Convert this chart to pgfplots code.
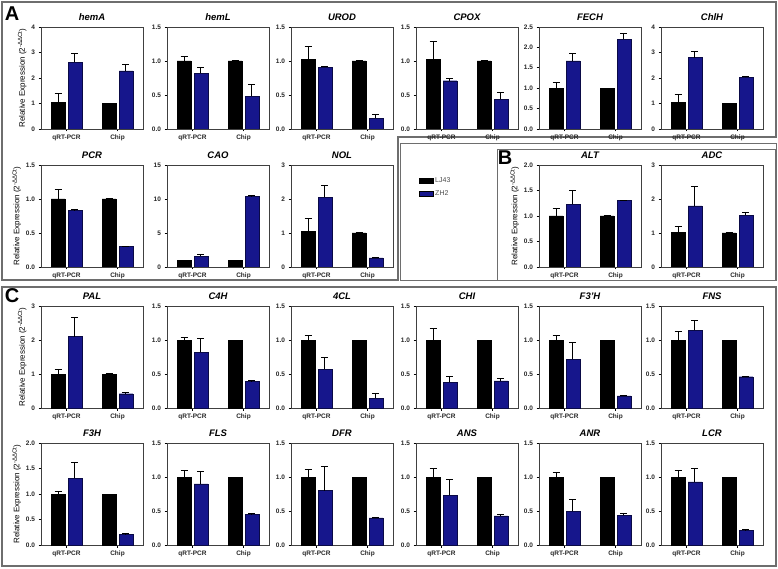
\documentclass[border=0pt]{standalone}
\usepackage{pgfplots}
\pgfplotsset{compat=1.18}
\usepackage{fontspec}
\setmainfont{Liberation Sans}
\definecolor{zhblue}{RGB}{22,22,140}
\definecolor{zhedge}{RGB}{10,10,70}
\definecolor{framec}{RGB}{110,110,110}
\pgfplotsset{
 panel/.style={width=102pt,height=102pt,scale only axis,anchor=north west,
  xmin=-0.5,xmax=1.5,ymin=0,xtick={0,1},xticklabels={qRT-PCR,Chip},
  tick align=outside,xtick pos=bottom,ytick pos=left,major tick length=2.5pt,
  tick style={black,line width=0.7pt},axis line style={black!75,line width=0.8pt},
  /pgf/number format/assume math mode=true,
  tick label style={font=\bfseries\fontsize{6.5}{7}\selectfont,text=black!85},
  title style={font=\bfseries\itshape\fontsize{9.5}{10}\selectfont,yshift=-3pt},
  ylabel style={font=\fontsize{8}{9}\selectfont,yshift=-2pt}},
 dec/.style={yticklabel style={/pgf/number format/.cd,fixed,fixed zerofill,precision=1}},
 lj/.style={ybar,bar width=0.27,bar shift=0pt,fill=black,draw=black,
  error bars/.cd,y dir=plus,y explicit,error bar style={black,line width=1pt},
  error mark options={rotate=90,black,line width=1pt,mark size=3.5pt},/pgfplots/.cd},
 zh/.style={ybar,bar width=0.27,bar shift=0pt,fill=zhblue,draw=zhedge,
  error bars/.cd,y dir=plus,y explicit,error bar style={black,line width=1pt},
  error mark options={rotate=90,black,line width=1pt,mark size=3.5pt},/pgfplots/.cd},
}
\newcommand{\ylab}{Relative Expression (2\textsuperscript{-ΔΔCt})}
\begin{document}
\begin{tikzpicture}
\useasboundingbox (0pt,0pt) rectangle (778pt,568pt);
% frames
\draw[framec,line width=1.3pt] (2pt,566pt) -- (776pt,566pt) -- (776pt,431pt) -- (398pt,431pt) -- (398pt,288pt) -- (2pt,288pt) -- cycle;
\draw[framec,line width=1pt] (400.5pt,424pt) rectangle (776pt,287pt);
\draw[framec,line width=1pt] (497pt,418pt) rectangle (775pt,287pt);
\draw[framec,line width=1.3pt] (2pt,281pt) rectangle (776pt,2pt);
\node[font=\bfseries\fontsize{20}{20}\selectfont] at (12pt,554pt) {A};
\node[font=\bfseries\fontsize{20}{20}\selectfont] at (505pt,410pt) {B};
\node[font=\bfseries\fontsize{20}{20}\selectfont] at (12pt,272pt) {C};

% ---------- Row 1 (A) ----------
\begin{axis}[panel,at={(41pt,541pt)},ymax=4,ytick={0,1,2,3,4},title={hemA},ylabel={\ylab}]
\addplot[lj] coordinates {(-0.165,1.05) +- (0,0.35) (0.835,1.0) +- (0,0)};
\addplot[zh] coordinates {(0.165,2.62) +- (0,0.35) (1.165,2.28) +- (0,0.24)};
\end{axis}
\begin{axis}[panel,dec,at={(167pt,541pt)},ymax=1.5,ytick={0,0.5,1,1.5},title={hemL}]
\addplot[lj] coordinates {(-0.165,1.0) +- (0,0.06) (0.835,1.0) +- (0,0)};
\addplot[zh] coordinates {(0.165,0.82) +- (0,0.09) (1.165,0.48) +- (0,0.17)};
\end{axis}
\begin{axis}[panel,dec,at={(291pt,541pt)},ymax=1.5,ytick={0,0.5,1,1.5},title={UROD}]
\addplot[lj] coordinates {(-0.165,1.02) +- (0,0.2) (0.835,1.0) +- (0,0)};
\addplot[zh] coordinates {(0.165,0.91) +- (0,0.01) (1.165,0.16) +- (0,0.06)};
\end{axis}
\begin{axis}[panel,dec,at={(416pt,541pt)},ymax=1.5,ytick={0,0.5,1,1.5},title={CPOX}]
\addplot[lj] coordinates {(-0.165,1.02) +- (0,0.27) (0.835,1.0) +- (0,0)};
\addplot[zh] coordinates {(0.165,0.71) +- (0,0.03) (1.165,0.44) +- (0,0.09)};
\end{axis}
\begin{axis}[panel,dec,at={(539pt,541pt)},ymax=2.5,ytick={0,0.5,1,1.5,2,2.5},title={FECH}]
\addplot[lj] coordinates {(-0.165,1.0) +- (0,0.15) (0.835,1.0) +- (0,0)};
\addplot[zh] coordinates {(0.165,1.67) +- (0,0.19) (1.165,2.2) +- (0,0.13)};
\end{axis}
\begin{axis}[panel,at={(661pt,541pt)},ymax=4,ytick={0,1,2,3,4},title={ChlH}]
\addplot[lj] coordinates {(-0.165,1.05) +- (0,0.3) (0.835,1.0) +- (0,0)};
\addplot[zh] coordinates {(0.165,2.8) +- (0,0.25) (1.165,2.02) +- (0,0.04)};
\end{axis}

% ---------- Row 2 (A, B) ----------
\begin{axis}[panel,dec,at={(41pt,403pt)},ymax=1.5,ytick={0,0.5,1,1.5},title={PCR},ylabel={\ylab}]
\addplot[lj] coordinates {(-0.165,1.0) +- (0,0.14) (0.835,1.0) +- (0,0)};
\addplot[zh] coordinates {(0.165,0.83) +- (0,0.02) (1.165,0.3) +- (0,0.005)};
\end{axis}
\begin{axis}[panel,at={(167pt,403pt)},ymax=15,ytick={0,5,10,15},title={CAO}]
\addplot[lj] coordinates {(-0.165,1.0) +- (0,0) (0.835,1.0) +- (0,0)};
\addplot[zh] coordinates {(0.165,1.6) +- (0,0.3) (1.165,10.4) +- (0,0.1)};
\end{axis}
\begin{axis}[panel,at={(291pt,403pt)},ymax=3,ytick={0,1,2,3},title={NOL}]
\addplot[lj] coordinates {(-0.165,1.05) +- (0,0.37) (0.835,1.0) +- (0,0)};
\addplot[zh] coordinates {(0.165,2.05) +- (0,0.35) (1.165,0.27) +- (0,0.02)};
\end{axis}
\begin{axis}[panel,dec,at={(539pt,403pt)},ymax=2,ytick={0,0.5,1,1.5,2},title={ALT},ylabel={\ylab},
  legend image code/.code={\fill[#1] (0pt,-2.6pt) rectangle (14pt,2.6pt);},
  legend style={at={(-1.18,0.90)},anchor=north west,draw=none,fill=none,
   font=\fontsize{7}{8}\selectfont,text=black!70,row sep=2.5pt,inner sep=0pt},
  legend cell align=left]
\addplot[forget plot,lj] coordinates {(-0.165,1.0) +- (0,0.15) (0.835,1.0) +- (0,0)};
\addplot[forget plot,zh] coordinates {(0.165,1.23) +- (0,0.27) (1.165,1.3) +- (0,0.01)};
\addlegendimage{fill=black}
\addlegendentry{LJ43}
\addlegendimage{fill=zhblue}
\addlegendentry{ZH2}
\end{axis}
\begin{axis}[panel,at={(661pt,403pt)},ymax=3,ytick={0,1,2,3},title={ADC}]
\addplot[lj] coordinates {(-0.165,1.02) +- (0,0.16) (0.835,1.0) +- (0,0)};
\addplot[zh] coordinates {(0.165,1.8) +- (0,0.57) (1.165,1.52) +- (0,0.07)};
\end{axis}

% ---------- Row 3 (C) ----------
\begin{axis}[panel,at={(41pt,262pt)},ymax=3,ytick={0,1,2,3},title={PAL},ylabel={\ylab}]
\addplot[lj] coordinates {(-0.165,1.0) +- (0,0.13) (0.835,1.0) +- (0,0)};
\addplot[zh] coordinates {(0.165,2.1) +- (0,0.57) (1.165,0.42) +- (0,0.03)};
\end{axis}
\begin{axis}[panel,dec,at={(167pt,262pt)},ymax=1.5,ytick={0,0.5,1,1.5},title={C4H}]
\addplot[lj] coordinates {(-0.165,1.0) +- (0,0.04) (0.835,1.0) +- (0,0)};
\addplot[zh] coordinates {(0.165,0.82) +- (0,0.2) (1.165,0.39) +- (0,0.01)};
\end{axis}
\begin{axis}[panel,dec,at={(291pt,262pt)},ymax=1.5,ytick={0,0.5,1,1.5},title={4CL}]
\addplot[lj] coordinates {(-0.165,1.0) +- (0,0.07) (0.835,1.0) +- (0,0)};
\addplot[zh] coordinates {(0.165,0.57) +- (0,0.18) (1.165,0.14) +- (0,0.07)};
\end{axis}
\begin{axis}[panel,dec,at={(416pt,262pt)},ymax=1.5,ytick={0,0.5,1,1.5},title={CHI}]
\addplot[lj] coordinates {(-0.165,1.0) +- (0,0.17) (0.835,1.0) +- (0,0)};
\addplot[zh] coordinates {(0.165,0.38) +- (0,0.09) (1.165,0.4) +- (0,0.03)};
\end{axis}
\begin{axis}[panel,dec,at={(539pt,262pt)},ymax=1.5,ytick={0,0.5,1,1.5},title={F3'H}]
\addplot[lj] coordinates {(-0.165,1.0) +- (0,0.07) (0.835,1.0) +- (0,0)};
\addplot[zh] coordinates {(0.165,0.72) +- (0,0.25) (1.165,0.18) +- (0,0.005)};
\end{axis}
\begin{axis}[panel,dec,at={(661pt,262pt)},ymax=1.5,ytick={0,0.5,1,1.5},title={FNS}]
\addplot[lj] coordinates {(-0.165,1.0) +- (0,0.12) (0.835,1.0) +- (0,0)};
\addplot[zh] coordinates {(0.165,1.14) +- (0,0.15) (1.165,0.46) +- (0,0.01)};
\end{axis}

% ---------- Row 4 (C) ----------
\begin{axis}[panel,dec,at={(41pt,125pt)},ymax=2,ytick={0,0.5,1,1.5,2},title={F3H},ylabel={\ylab}]
\addplot[lj] coordinates {(-0.165,1.0) +- (0,0.05) (0.835,1.0) +- (0,0)};
\addplot[zh] coordinates {(0.165,1.31) +- (0,0.3) (1.165,0.21) +- (0,0.01)};
\end{axis}
\begin{axis}[panel,dec,at={(167pt,125pt)},ymax=1.5,ytick={0,0.5,1,1.5},title={FLS}]
\addplot[lj] coordinates {(-0.165,1.0) +- (0,0.1) (0.835,1.0) +- (0,0)};
\addplot[zh] coordinates {(0.165,0.9) +- (0,0.18) (1.165,0.45) +- (0,0.01)};
\end{axis}
\begin{axis}[panel,dec,at={(291pt,125pt)},ymax=1.5,ytick={0,0.5,1,1.5},title={DFR}]
\addplot[lj] coordinates {(-0.165,1.0) +- (0,0.11) (0.835,1.0) +- (0,0)};
\addplot[zh] coordinates {(0.165,0.8) +- (0,0.36) (1.165,0.4) +- (0,0.01)};
\end{axis}
\begin{axis}[panel,dec,at={(416pt,125pt)},ymax=1.5,ytick={0,0.5,1,1.5},title={ANS}]
\addplot[lj] coordinates {(-0.165,1.0) +- (0,0.13) (0.835,1.0) +- (0,0)};
\addplot[zh] coordinates {(0.165,0.73) +- (0,0.23) (1.165,0.43) +- (0,0.02)};
\end{axis}
\begin{axis}[panel,dec,at={(539pt,125pt)},ymax=1.5,ytick={0,0.5,1,1.5},title={ANR}]
\addplot[lj] coordinates {(-0.165,1.0) +- (0,0.06) (0.835,1.0) +- (0,0)};
\addplot[zh] coordinates {(0.165,0.5) +- (0,0.17) (1.165,0.44) +- (0,0.02)};
\end{axis}
\begin{axis}[panel,dec,at={(661pt,125pt)},ymax=1.5,ytick={0,0.5,1,1.5},title={LCR}]
\addplot[lj] coordinates {(-0.165,1.0) +- (0,0.1) (0.835,1.0) +- (0,0)};
\addplot[zh] coordinates {(0.165,0.93) +- (0,0.19) (1.165,0.22) +- (0,0.005)};
\end{axis}
\end{tikzpicture}
\end{document}
